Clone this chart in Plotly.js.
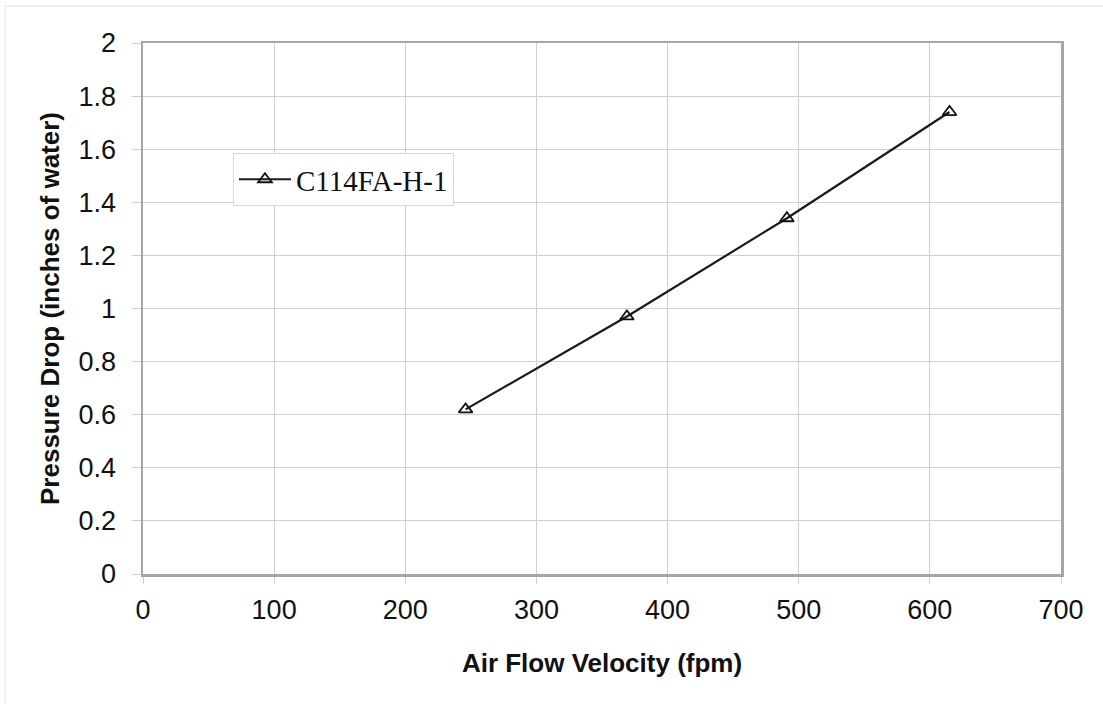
<!DOCTYPE html>
<html>
<head>
<meta charset="utf-8">
<script src="https://cdn.plot.ly/plotly-3.0.1.min.js"></script>
<style>
  html, body { margin: 0; padding: 0; background: #fff; }
  #wrap { position: relative; width: 1103px; height: 704px; }
  #frame { position: absolute; left: 4px; top: 5px; right: 0; bottom: 0;
           border-top: 2px solid #efefef; border-left: 2px solid #efefef; pointer-events: none; }
  #chart { position: absolute; left: 0; top: 0; width: 1103px; height: 704px; }
</style>
</head>
<body>
<div id="wrap">
  <div id="chart"></div>
  <div id="frame"></div>
</div>
<script>
// Data
const seriesName = "C114FA-H-1";
const airFlowVelocity = [246, 369, 491, 615];      // fpm
const pressureDrop = [0.62, 0.97, 1.34, 1.74];     // inches of water

const xTicks = [0, 100, 200, 300, 400, 500, 600, 700];
const yTicks = [0, 0.2, 0.4, 0.6, 0.8, 1, 1.2, 1.4, 1.6, 1.8, 2];
const yTickLabels = ["0", "0.2", "0.4", "0.6", "0.8", "1", "1.2", "1.4", "1.6", "1.8", "2"];

const xTitle = "Air Flow Velocity (fpm)";
const yTitle = "Pressure Drop (inches of water)";

const sansFont = "Liberation Sans, Arial, sans-serif";
const serifFont = "Liberation Serif, Times New Roman, serif";

const trace = {
  x: airFlowVelocity,
  y: pressureDrop,
  name: seriesName,
  type: "scatter",
  mode: "lines+markers",
  line: { color: "#1a1a1a", width: 2.2 },
  marker: { symbol: "triangle-up-open", size: 12, color: "#111", line: { width: 1.8, color: "#111" } },
  showlegend: true
};

const layout = {
  width: 1103,
  height: 704,
  margin: { l: 143, r: 42, t: 43, b: 130 },
  paper_bgcolor: "rgba(0,0,0,0)",
  plot_bgcolor: "#ffffff",
  font: { family: sansFont, size: 27, color: "#111" },
  showlegend: true,
  legend: {
    x: 0.098, y: 0.793, xanchor: "left", yanchor: "top",
    bgcolor: "#ffffff", bordercolor: "#d9d9d9", borderwidth: 1,
    itemwidth: 52,
    font: { family: serifFont, size: 29, color: "#111" }
  },
  xaxis: {
    range: [0, 700],
    tickvals: xTicks,
    ticktext: xTicks.map(String),
    showgrid: true, gridcolor: "#cfcfcf", gridwidth: 1,
    showline: true, linecolor: "#a6a6a6", linewidth: 2.5, mirror: true,
    ticks: "outside", ticklen: 7, tickcolor: "#cfcfcf", tickwidth: 1,
    ticklabelstandoff: 3,
    zeroline: false,
    tickfont: { family: sansFont, size: 27, color: "#111" },
    title: { text: xTitle, standoff: 30, font: { family: sansFont, size: 26, color: "#111", weight: "bold" } },
    automargin: false
  },
  yaxis: {
    range: [0, 2],
    tickvals: yTicks,
    ticktext: yTickLabels,
    showgrid: true, gridcolor: "#cfcfcf", gridwidth: 1,
    showline: true, linecolor: "#a6a6a6", linewidth: 2.5, mirror: true,
    ticks: "outside", ticklen: 9, tickcolor: "#cfcfcf", tickwidth: 1,
    ticklabelstandoff: 10,
    zeroline: false,
    tickfont: { family: sansFont, size: 27, color: "#111" },
    title: { text: yTitle, standoff: 12, font: { family: sansFont, size: 26, color: "#111", weight: "bold" } },
    automargin: false
  }
};

Plotly.newPlot("chart", [trace], layout, { displayModeBar: false, staticPlot: true });
</script>
</body>
</html>
